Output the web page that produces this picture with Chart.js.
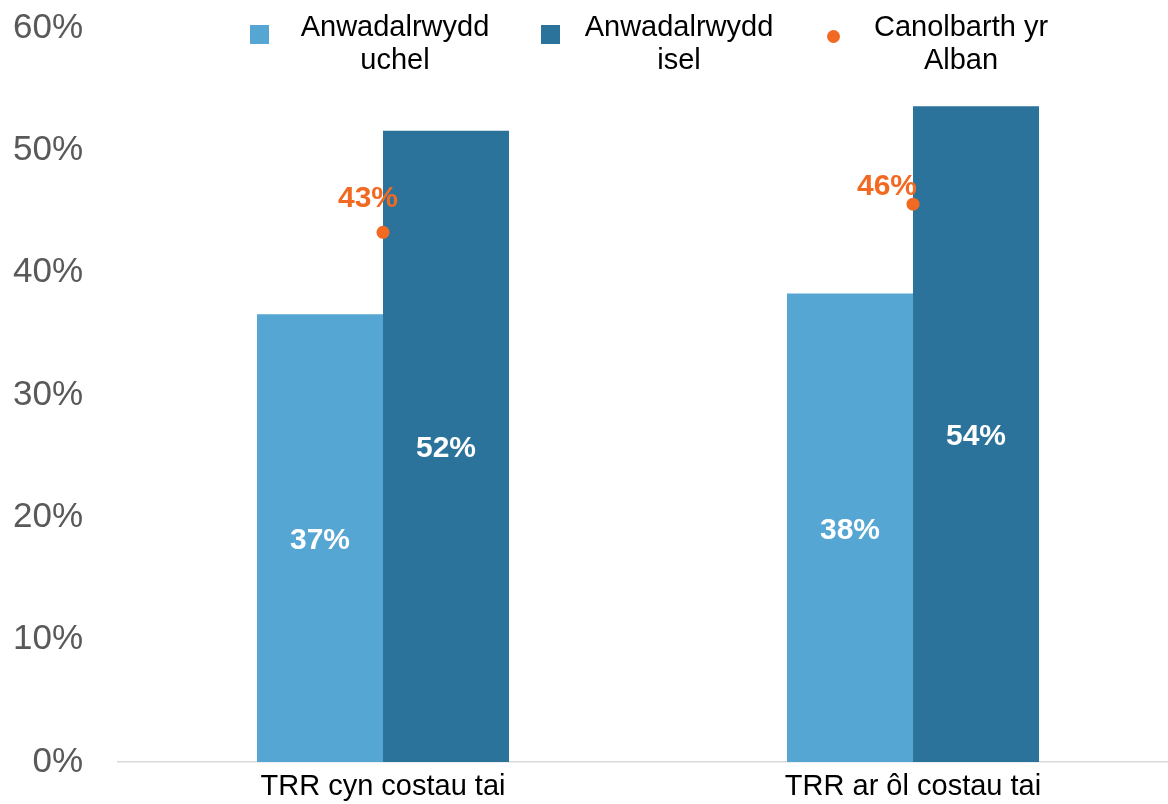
<!DOCTYPE html>
<html>
<head>
<meta charset="utf-8">
<script src="https://cdn.jsdelivr.net/npm/chart.js@4/dist/chart.umd.min.js"></script>
<style>
  html, body { margin: 0; padding: 0; background: #fff; overflow: hidden; }
  #wrap { position: relative; width: 1178px; height: 804px; }
  #chart { display: block; }
  .leg-mark { position: absolute; }
  .leg-text {
    position: absolute; width: 210px; text-align: center;
    font: 29px "Liberation Sans", Arial, sans-serif; line-height: 33px; color: #000;
  }
</style>
</head>
<body>
<div id="wrap">
  <canvas id="chart" width="1178" height="804"></canvas>
  <div id="legend"></div>
</div>
<script>
// data
const categories = ['TRR cyn costau tai', 'TRR ar ôl costau tai'];
const seriesNames = ['Anwadalrwydd uchel', 'Anwadalrwydd isel', 'Canolbarth yr Alban'];
const highVolatility = [36.6, 38.3];
const lowVolatility = [51.6, 53.6];
const scotlandMedian = [43.3, 45.6];

// colours
const LIGHT = '#56A6D4';
const DARK = '#2C739C';
const ORANGE = '#F26A21';
const FONT = '"Liberation Sans", Arial, sans-serif';

// orange labels were placed by hand in the original, offset from the point
const medianLabelOffsets = [[-15, -36], [-26, -20]];

// legend (html so the names can wrap onto two lines)
const legendItems = [
  { mark: 'square', color: LIGHT, markX: 250, markY: 25, textX: 395 },
  { mark: 'square', color: DARK, markX: 541, markY: 25, textX: 679 },
  { mark: 'circle', color: ORANGE, markX: 827, markY: 30, textX: 961 }
];
const legendEl = document.getElementById('legend');
legendItems.forEach((it, i) => {
  const m = document.createElement('div');
  m.className = 'leg-mark';
  const size = it.mark === 'circle' ? 13 : 19;
  m.style.cssText = `left:${it.markX}px;top:${it.markY}px;width:${size}px;height:${size}px;background:${it.color};` +
    (it.mark === 'circle' ? 'border-radius:50%;' : '');
  legendEl.appendChild(m);
  const t = document.createElement('div');
  t.className = 'leg-text';
  t.style.left = (it.textX - 105) + 'px';
  t.style.top = '10px';
  t.textContent = seriesNames[i];
  legendEl.appendChild(t);
});

const valueLabels = {
  id: 'valueLabels',
  afterDatasetsDraw(chart) {
    const ctx = chart.ctx;
    ctx.save();
    ctx.font = 'bold 30px ' + FONT;
    ctx.textAlign = 'center';
    ctx.textBaseline = 'alphabetic';
    chart.data.datasets.forEach((ds, i) => {
      const meta = chart.getDatasetMeta(i);
      meta.data.forEach((el, j) => {
        const txt = Math.round(ds.data[j]) + '%';
        if (ds.type === 'line') {
          const off = medianLabelOffsets[j];
          ctx.fillStyle = ORANGE;
          ctx.fillText(txt, el.x + off[0], el.y + off[1] + 11);
        } else {
          ctx.fillStyle = '#fff';
          ctx.fillText(txt, el.x, (el.y + el.base) / 2 + 11);
        }
      });
    });
    ctx.restore();
  }
};

// keep the plot area where the original has it
function noPad(s) {
  s.paddingTop = 0; s.paddingBottom = 0; s.paddingLeft = 0; s.paddingRight = 0;
}

new Chart(document.getElementById('chart'), {
  data: {
    labels: categories,
    datasets: [
      {
        type: 'line',
        label: seriesNames[2],
        data: scotlandMedian,
        showLine: false,
        pointRadius: 6.5,
        pointHoverRadius: 6.5,
        pointBackgroundColor: ORANGE,
        pointBorderWidth: 0,
        order: 0
      },
      {
        type: 'bar',
        label: seriesNames[0],
        data: highVolatility,
        backgroundColor: LIGHT,
        categoryPercentage: 0.4755,
        barPercentage: 1,
        order: 1
      },
      {
        type: 'bar',
        label: seriesNames[1],
        data: lowVolatility,
        backgroundColor: DARK,
        categoryPercentage: 0.4755,
        barPercentage: 1,
        order: 1
      }
    ]
  },
  options: {
    responsive: false,
    animation: false,
    layout: { autoPadding: false, padding: { top: 28, left: 0, right: 0, bottom: 0 } },
    plugins: {
      legend: { display: false },
      tooltip: { enabled: false }
    },
    scales: {
      x: {
        grid: { display: false, drawTicks: false },
        border: { display: true, color: '#D9D9D9', width: 1.5 },
        ticks: { color: '#000', font: { family: FONT, size: 29 }, padding: 8, maxRotation: 0 },
        afterFit: s => { s.height = 42; noPad(s); }
      },
      y: {
        min: 0,
        max: 60,
        grid: { display: false, drawTicks: false },
        border: { display: false },
        ticks: {
          stepSize: 10,
          color: '#595959',
          padding: 35,
          font: { family: FONT, size: 35 },
          callback: v => v + '%'
        },
        afterFit: s => { s.width = 118; noPad(s); }
      }
    }
  },
  plugins: [valueLabels]
});
</script>
</body>
</html>
